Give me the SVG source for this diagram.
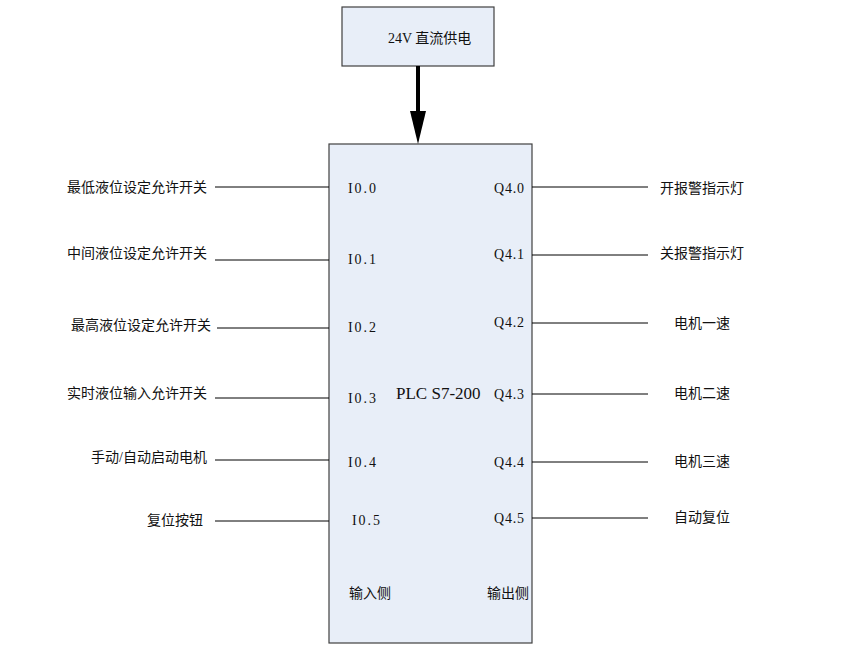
<svg xmlns="http://www.w3.org/2000/svg" width="846" height="650" viewBox="0 0 846 650">
<style>
.box{fill:#e8eef8;stroke:#404040;stroke-width:1.2}
.ln{stroke:#000;stroke-width:1}
text{font-family:"Liberation Serif","Noto Sans CJK SC",serif;font-size:14px;fill:#111}
.pin{font-size:14px}
.r{text-anchor:end}
</style>
<defs><marker id="ah" markerWidth="4" markerHeight="5" refX="2" refY="4.6" orient="auto" markerUnits="strokeWidth"><path d="M0,0 L4,0 L2,5 Z" fill="#000" transform="rotate(-90 2 2.5) translate(0,0)"/></marker></defs>
<g id="power"><rect class="box" x="342" y="7" width="152" height="59"/><text x="388" y="43">24V 直流供电</text></g>
<g id="plc"><rect class="box" x="329" y="144" width="203" height="499"/>
<text x="396" y="399" style="font-size:17px">PLC S7-200</text>
<text x="348" y="193" class="pin" textLength="28">I0.0</text>
<text x="348" y="264" class="pin" textLength="28">I0.1</text>
<text x="348" y="332" class="pin" textLength="28">I0.2</text>
<text x="348" y="403" class="pin" textLength="28">I0.3</text>
<text x="348" y="467" class="pin" textLength="28">I0.4</text>
<text x="352" y="525" class="pin" textLength="28">I0.5</text>
<text x="494" y="193" class="pin" textLength="30">Q4.0</text>
<text x="494" y="259" class="pin" textLength="30">Q4.1</text>
<text x="494" y="327" class="pin" textLength="30">Q4.2</text>
<text x="494" y="399" class="pin" textLength="30">Q4.3</text>
<text x="494" y="467" class="pin" textLength="30">Q4.4</text>
<text x="494" y="523" class="pin" textLength="30">Q4.5</text>
<text x="349" y="598">输入侧</text>
<text x="487" y="598">输出侧</text></g>
<g id="inputs">
<text class="r" x="207" y="192">最低液位设定允许开关</text>
<text class="r" x="207" y="258">中间液位设定允许开关</text>
<text class="r" x="211" y="330">最高液位设定允许开关</text>
<text class="r" x="207" y="398">实时液位输入允许开关</text>
<text class="r" x="207" y="462">手动/自动启动电机</text>
<text class="r" x="203" y="525">复位按钮</text></g>
<g id="outputs">
<text x="660" y="193">开报警指示灯</text>
<text x="660" y="258">关报警指示灯</text>
<text x="674" y="328">电机一速</text>
<text x="674" y="398">电机二速</text>
<text x="674" y="466">电机三速</text>
<text x="674" y="522">自动复位</text></g>
<g id="connectors">
<line class="ln" x1="215" y1="187" x2="329" y2="187"/>
<line class="ln" x1="215" y1="260" x2="329" y2="260"/>
<line class="ln" x1="217" y1="328" x2="329" y2="328"/>
<line class="ln" x1="215" y1="398" x2="329" y2="398"/>
<line class="ln" x1="215" y1="460" x2="329" y2="460"/>
<line class="ln" x1="215" y1="521" x2="329" y2="521"/>
<line class="ln" x1="532" y1="187" x2="648" y2="187"/>
<line class="ln" x1="532" y1="255" x2="648" y2="255"/>
<line class="ln" x1="532" y1="323" x2="648" y2="323"/>
<line class="ln" x1="532" y1="394" x2="648" y2="394"/>
<line class="ln" x1="532" y1="462" x2="648" y2="462"/>
<line class="ln" x1="532" y1="518" x2="648" y2="518"/>
<line x1="418" y1="66" x2="418" y2="112" stroke="#000" stroke-width="4"/>
<path d="M410,111 L426,111 L418,144 Z" fill="#000"/>
</g>
</svg>
